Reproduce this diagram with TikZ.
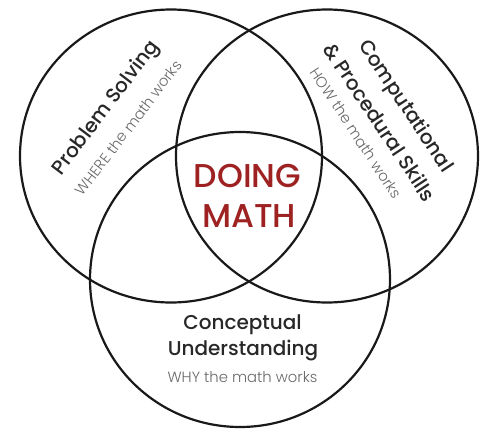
\documentclass[tikz,border=0pt]{standalone}
\usepackage{fontspec}
\setmainfont{Poppins}
\IfFontExistsTF{Poppins Medium}{\newfontfamily\headfont{Poppins Medium}}{\newfontfamily\headfont{Poppins}[FakeBold=0.5]}
\IfFontExistsTF{Poppins Light}{\newfontfamily\subfont{Poppins Light}}{\newfontfamily\subfont{Poppins}}
\definecolor{mathred}{RGB}{158,34,34}
\definecolor{subgray}{RGB}{105,105,105}
\definecolor{headgray}{RGB}{40,40,40}
\begin{document}
\begin{tikzpicture}[x=1pt,y=-1pt,
  ring/.style={draw=black!90,line width=2.2pt},
  head/.style={font=\headfont\fontsize{20}{24}\selectfont,text=headgray,inner sep=0pt},
  sub/.style={font=\subfont\fontsize{14.8}{17}\selectfont,text=subgray,inner sep=0pt},
  big/.style={font=\headfont\fontsize{33}{38}\selectfont,text=mathred,inner sep=0pt}]
\useasboundingbox (0,0) rectangle (485,429);
\fill[white] (0,0) rectangle (485,429);
% circles
\draw[ring] (171,156) ellipse [x radius=151, y radius=146.5];
\draw[ring] (327,156) ellipse [x radius=151, y radius=146.5];
\draw[ring] (240,279.5) ellipse [x radius=150, y radius=147.5];
% left
\node[head,rotate=52.8] (ps) at (106.7,108.2) {Problem Solving};
\node[sub,rotate=52.8] (psw) at (128.4,127.8) {WHERE the math works};
% right
\node[head,rotate=-56.5] (cp1) at (405,106.5) {Computational};
\node[head,rotate=-56.5] (cp2) at (380,122) {\& Procedural Skills};
\node[sub,rotate=-56.5] (cph) at (356,133) {HOW the math works};
% bottom
\node[head] (cu1) at (242.5,325) {Conceptual};
\node[head] (cu2) at (243,351) {Understanding};
\node[sub] (cuw) at (242.5,377) {WHY the math works};
% center
\node[big] (dm1) at (247.5,175.5) {DOING};
\node[big] (dm2) at (249,216.5) {MATH};
\end{tikzpicture}
\end{document}
